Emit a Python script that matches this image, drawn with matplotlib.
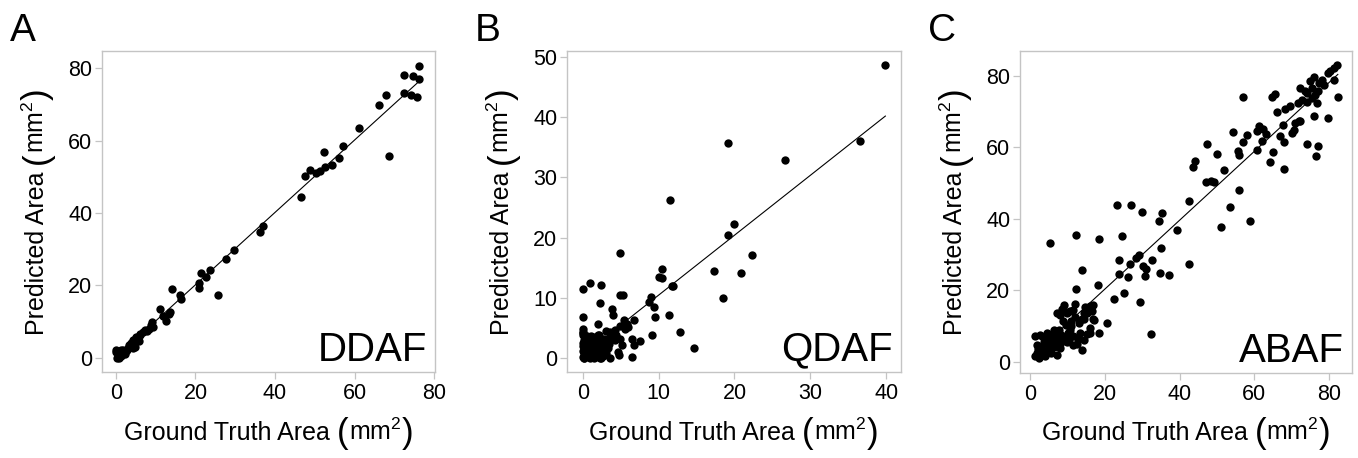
import numpy as np
import matplotlib
matplotlib.use("Agg")
import matplotlib.pyplot as plt

# -------------------------------------------------
# Data
# -------------------------------------------------

ddaf_truth = [76.3, 72.5, 74.8, 76.3, 68.0, 72.5, 74.1, 75.6, 66.2, 61.1,
              68.7, 57.2, 56.2, 52.2, 54.2, 52.5, 51.4, 50.4, 48.7, 47.5,
              46.5, 37.0, 36.1, 29.8, 27.6, 23.6, 21.5, 22.6, 20.9, 20.8,
              25.7, 16.3, 16.2, 14.0, 13.7, 13.3, 11.0, 11.8, 12.7, 9.1,
              9.4, 8.9, 7.9, 7.2, 6.8, 6.1, 6.0, 5.8, 5.1, 4.7,
              4.3, 3.9, 4.4, 4.7, 3.6, 3.4, 2.9, 1.8, 1.3, 0.1,
              0.3, 0.9, 1.8, 0.5, 2.2, 0.9, 0.0, 3.0, 1.2, 2.5,
              5.5, 8.3]
ddaf_pred = [80.6, 78.2, 77.8, 77.0, 72.7, 73.2, 72.6, 72.2, 69.9, 63.4,
             55.9, 58.6, 55.1, 56.8, 53.2, 52.7, 51.6, 51.1, 51.8, 50.2,
             44.4, 36.5, 34.9, 29.9, 27.4, 24.4, 23.5, 22.4, 20.7, 19.2,
             17.4, 16.4, 17.3, 19.0, 12.7, 12.2, 13.5, 11.5, 10.2, 9.8,
             8.5, 9.0, 7.5, 7.6, 7.2, 6.3, 6.7, 4.6, 5.8, 4.9,
             4.9, 4.0, 2.6, 3.0, 3.0, 3.5, 2.1, 2.1, 2.1, 2.3,
             0.1, 0.7, 1.0, 1.4, 1.2, 0.0, 1.7, 2.6, 0.4, 1.8,
             5.2, 8.0]

qdaf_truth = [39.9, 36.5, 19.2, 26.7, 11.5, 20.0, 19.2, 4.9, 22.3, 17.3,
              20.8, 10.5, 10.1, 10.4, 11.7, 11.9, 18.5, 0.9, 2.4, 0.0,
              4.9, 5.3, 9.0, 8.7, 2.2, 9.4, 3.8, 4.0, 11.4, 9.5,
              0.0, 6.7, 2.0, 5.4, 5.8, 0.0, 4.9, 12.8, 9.1, 6.5,
              7.5, 6.8, 14.6, 4.8, 3.6, 6.5, 0.0, 6.0, 3.6, 4.2,
              3.0, 4.4, 2.1, 4.9, 3.6, 1.6, 1.0, 5.2, 3.2, 0.0,
              1.0, 2.0, 2.5, 4.6, 0.0, 0.7, 1.2, 1.6, 2.1, 2.3,
              0.5, 1.1, 2.0, 2.8, 0.0, 0.0, 0.2, 0.3, 0.5, 0.8,
              1.4, 1.5, 1.8, 2.6, 3.0, 3.3, 0.1, 0.4, 1.3, 2.8,
              0.6, 1.9, 3.5, 0.0, 0.2, 1.0, 2.6, 0.9, 5.5, 4.1,
              0.3, 0.7, 1.2, 1.7, 2.2, 2.9, 3.4, 0.4, 1.1, 2.4,
              0.0, 0.6, 1.5, 2.0, 3.1, 0.9, 1.8, 2.7, 4.3, 0.2]
qdaf_pred = [48.7, 36.1, 35.8, 32.9, 26.3, 22.3, 20.4, 17.4, 17.1, 14.4,
             14.2, 14.8, 13.4, 13.3, 12.0, 12.0, 10.0, 12.4, 12.2, 11.4,
             10.5, 10.5, 10.2, 9.3, 9.2, 8.5, 8.1, 7.2, 7.1, 6.9,
             6.8, 6.4, 5.7, 6.3, 5.7, 4.9, 5.3, 4.3, 3.9, 3.2,
             2.9, 2.2, 1.6, 0.6, 0.1, 0.2, 4.1, 5.1, 4.4, 4.6,
             4.5, 3.9, 3.9, 3.1, 3.4, 3.1, 2.8, 2.1, 2.3, 2.0,
             1.8, 2.0, 1.4, 1.0, 0.2, 0.6, 0.9, 0.2, 0.6, 0.0,
             1.4, 2.4, 2.9, 3.1, 4.3, 3.8, 0.8, 1.1, 2.6, 3.3,
             1.2, 2.7, 0.6, 2.4, 0.8, 1.7, 3.0, 0.3, 3.5, 1.9,
             2.1, 1.5, 2.8, 1.2, 0.0, 0.1, 0.4, 1.0, 4.8, 3.6,
             0.5, 1.6, 2.9, 0.4, 1.1, 1.3, 2.4, 3.2, 3.7, 0.1,
             2.5, 3.6, 0.0, 3.9, 2.0, 1.9, 1.0, 0.5, 3.0, 0.0]

abaf_truth = [82.0, 81.2, 80.3, 79.8, 81.2, 82.3, 79.6, 75.8, 78.0, 74.9,
              77.3, 78.7, 72.2, 75.3, 77.1, 74.0, 76.2, 75.3, 73.6, 65.6,
              64.7, 56.9, 72.6, 71.7, 74.0, 76.7, 69.5, 68.2, 66.0, 76.0,
              71.8, 70.9, 72.3, 67.6, 70.5, 70.0, 61.1, 62.4, 60.7, 63.2,
              58.0, 57.0, 66.9, 67.9, 62.1, 74.0, 76.9, 76.5, 60.8, 65.0,
              64.1, 67.8, 54.4, 55.5, 56.0, 47.2, 49.9, 51.9, 47.1, 48.3,
              49.3, 44.0, 43.7, 42.6, 55.8, 53.5, 51.0, 58.7, 39.3, 35.4,
              34.4, 29.8, 26.9, 23.2, 24.6, 12.3, 18.5, 5.4, 34.9, 32.6,
              29.1, 28.2, 26.8, 23.9, 30.2, 30.9, 30.8, 34.7, 37.2, 42.5,
              23.8, 26.3, 13.9, 18.2, 12.4, 25.0, 22.4, 29.4, 16.8, 14.8,
              12.1, 9.0, 7.9, 9.6, 10.6, 11.4, 20.6, 16.9, 32.3, 13.9,
              16.1, 14.4, 13.9, 8.6, 7.2, 9.9, 16.1, 15.2, 16.6, 17.0,
              14.4, 13.0, 10.9, 8.7, 16.1, 18.3, 10.8, 6.3, 4.5, 2.7,
              1.4, 15.2, 13.3, 11.6, 9.0, 7.2, 5.4, 3.6, 1.8, 9.9,
              12.5, 8.1, 6.3, 5.0, 3.2, 1.4, 2.7, 4.0, 2.3, 5.7,
              7.2, 3.0, 4.2, 5.8, 6.8, 7.8, 8.3, 4.8, 6.0, 2.2,
              3.8, 5.2, 6.6, 10.2, 11.0, 12.0, 9.5, 8.0, 10.5, 3.5,
              4.6, 1.8, 14.5, 12.8, 11.5]
abaf_pred = [83.2, 82.2, 81.3, 80.7, 79.0, 74.2, 68.3, 79.6, 79.0, 78.5,
             78.0, 77.5, 76.6, 76.6, 75.7, 75.2, 74.8, 73.8, 75.7, 75.0,
             74.0, 74.1, 73.2, 72.5, 72.8, 72.5, 71.5, 70.9, 70.0, 68.7,
             67.5, 66.8, 67.3, 66.4, 65.0, 64.1, 66.0, 65.3, 64.5, 63.8,
             63.5, 61.6, 63.3, 61.6, 61.7, 60.9, 60.5, 57.7, 59.3, 58.6,
             55.8, 54.1, 64.3, 59.1, 58.0, 60.9, 58.1, 53.6, 50.3, 50.6,
             50.4, 56.3, 54.5, 44.9, 48.0, 43.4, 37.8, 39.4, 37.0, 41.7,
             39.4, 41.9, 44.0, 43.8, 35.2, 35.5, 34.3, 33.2, 31.9, 28.6,
             29.8, 29.0, 27.5, 28.6, 26.8, 26.1, 24.0, 24.9, 24.2, 27.4,
             24.6, 23.7, 25.7, 21.4, 20.4, 19.4, 17.6, 16.7, 16.0, 15.3,
             16.1, 16.0, 13.2, 14.0, 14.2, 14.6, 10.9, 12.0, 7.7, 3.4,
             8.1, 13.7, 12.0, 14.8, 13.7, 13.7, 15.6, 13.7, 14.2, 11.8,
             12.0, 10.9, 11.4, 11.4, 9.5, 8.1, 9.0, 9.0, 8.1, 7.6,
             7.2, 7.7, 8.1, 7.2, 6.8, 6.3, 5.9, 5.5, 4.6, 5.5,
             5.1, 3.9, 4.3, 3.4, 3.0, 1.6, 2.0, 1.6, 1.2, 2.5,
             2.0, 4.0, 6.5, 7.4, 8.0, 8.8, 7.4, 4.8, 5.3, 3.5,
             2.6, 6.8, 6.0, 8.2, 10.0, 12.5, 10.3, 5.0, 6.3, 7.0,
             3.0, 2.6, 6.0, 6.5, 4.6]

# fitted lines: (slope, intercept)
ddaf_fit = (1.0, 0.2)
qdaf_fit = (0.994, 0.53)
abaf_fit = (0.964, 1.1)

panels = [
    ("A", "DDAF", ddaf_truth, ddaf_pred, ddaf_fit,
     [0, 20, 40, 60, 80], [0, 20, 40, 60, 80], (-3.5, 80.2), (-3.9, 84.8)),
    ("B", "QDAF", qdaf_truth, qdaf_pred, qdaf_fit,
     [0, 10, 20, 30, 40], [0, 10, 20, 30, 40, 50], (-2.1, 41.95), (-2.3, 51.0)),
    ("C", "ABAF", abaf_truth, abaf_pred, abaf_fit,
     [0, 20, 40, 60, 80], [0, 20, 40, 60, 80], (-2.7, 86.1), (-3.1, 87.0)),
]

# -------------------------------------------------
# Style
# -------------------------------------------------

plt.rcParams["font.family"] = ["Liberation Sans", "DejaVu Sans"]
plt.rcParams["mathtext.fontset"] = "custom"
plt.rcParams["mathtext.rm"] = "Liberation Sans"
plt.rcParams["mathtext.it"] = "Liberation Sans:italic"
plt.rcParams["mathtext.bf"] = "Liberation Sans:bold"

frame_color = "#c4c4c4"
label_size = 18
paren_size = 25

fig = plt.figure(figsize=(13.58, 4.58), dpi=100)
renderer = fig.canvas.get_renderer()


def piece_label(cx, cy, text, vertical=False):
    """Axis label with tall brackets; cx, cy = centre of the baseline in pixels."""
    pieces = [(text + " ", label_size, 0), ("(", paren_size, -3),
              ("mm$^{2}$", label_size, 0), (")", paren_size, -3)]
    widths = []
    for s, size, _ in pieces:
        t = fig.text(0, 0, s, fontsize=size)
        widths.append(t.get_window_extent(renderer).width)
        t.remove()
    pos = -sum(widths) / 2
    for (s, size, dy), w in zip(pieces, widths):
        if vertical:
            px, py = cx - dy, cy + pos
        else:
            px, py = cx + pos, cy + dy
        fig.text(px / fig.bbox.width, py / fig.bbox.height, s, fontsize=size,
                 ha="left", va="baseline", rotation=90 if vertical else 0,
                 rotation_mode="anchor")
        pos += w


# axes positions in figure fractions [left, bottom, width, height]
positions = [
    [0.0751, 0.1878, 0.2452, 0.7009],
    [0.4175, 0.1878, 0.2459, 0.7009],
    [0.7511, 0.1856, 0.2445, 0.7031],
]

for (letter, name, truth, pred, fit, xt, yt, xl, yl), pos in zip(panels, positions):
    ax = fig.add_axes(pos)

    truth = np.array(truth)
    pred = np.array(pred)

    xs = np.array([truth.min(), truth.max()])
    ax.plot(xs, fit[0] * xs + fit[1], color="black", linewidth=0.8, zorder=2)
    ax.scatter(truth, pred, s=36, color="black", linewidths=0, zorder=3)

    ax.set_xlim(xl)
    ax.set_ylim(yl)
    ax.set_xticks(xt)
    ax.set_yticks(yt)

    for spine in ax.spines.values():
        spine.set_color(frame_color)
        spine.set_linewidth(1.0)

    ax.tick_params(axis="both", direction="out", length=5, width=0.9,
                   color=frame_color, labelcolor="black", labelsize=15.5)
    ax.tick_params(axis="x", pad=3)
    ax.tick_params(axis="y", pad=2)

    ax.text(0.975, 0.035, name, transform=ax.transAxes, ha="right",
            va="baseline", fontsize=29)

    fig.text(pos[0] - 0.068, 1 - 41 / 458, letter, fontsize=28,
             ha="left", va="baseline")

    # axis labels in pixels
    W, H = fig.bbox.width, fig.bbox.height
    left_px = pos[0] * W
    mid_x = (pos[0] + pos[2] / 2) * W
    mid_y = (pos[1] + pos[3] / 2) * H
    piece_label(mid_x, H - 440, "Ground Truth Area")
    piece_label(left_px - 58, mid_y, "Predicted Area", vertical=True)

fig.savefig("out.png", dpi=100)
plt.close(fig)
